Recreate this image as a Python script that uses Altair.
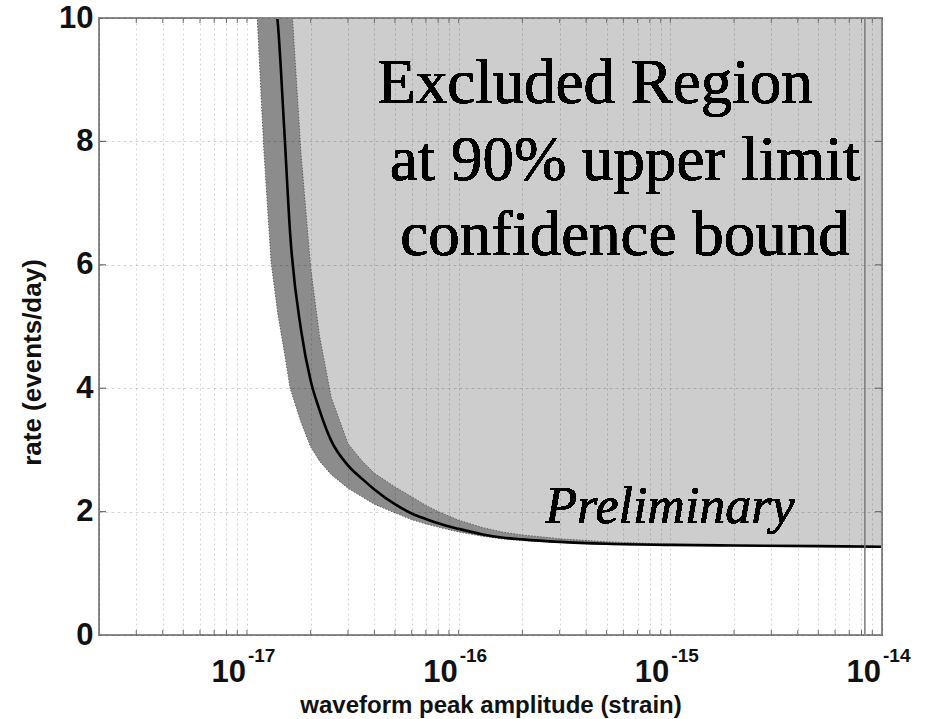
import altair as alt
import pandas as pd

# Upper-limit curve on event rate vs. waveform peak amplitude, with its uncertainty band
amplitude = [1.1e-17, 1.2e-17, 1.3e-17, 1.4e-17, 1.5e-17, 1.6e-17, 1.8e-17, 2.0e-17,
             2.2e-17, 2.5e-17, 3.0e-17, 3.5e-17, 4.0e-17, 5.0e-17, 6.0e-17, 7.0e-17,
             8.0e-17, 1.0e-16, 1.3e-16, 1.6e-16, 2.0e-16, 3.0e-16, 5.0e-16, 1.0e-15,
             2.0e-15, 5.0e-15, 1.0e-14]
rate_mid = [12.5, 11.3, 10.6, 9.9, 8.2, 6.5, 4.95, 4.12,
            3.65, 3.15, 2.75, 2.53, 2.36, 2.12, 1.97, 1.88,
            1.81, 1.72, 1.63, 1.58, 1.55, 1.51, 1.48, 1.46,
            1.45, 1.44, 1.43]
rate_low = [10.5, 7.9, 6.05, 5.2, 4.6, 4.0, 3.45, 3.05,
            2.82, 2.6, 2.38, 2.24, 2.12, 1.98, 1.87, 1.80,
            1.75, 1.67, 1.60, 1.56, 1.53, 1.50, 1.47, 1.455,
            1.445, 1.435, 1.425]
rate_high = [16.0, 14.5, 13.2, 12.2, 11.3, 10.6, 7.8, 5.95,
             4.85, 3.85, 3.1, 2.82, 2.62, 2.40, 2.24, 2.10,
             2.00, 1.86, 1.74, 1.67, 1.62, 1.56, 1.51, 1.47,
             1.455, 1.445, 1.435]

marker_amplitude = [8.3e-15]
major_exponents = [-17, -16, -15, -14]
y_values = [0, 2, 4, 6, 8, 10]
x_min, x_max = 2e-18, 1e-14
y_top = 10

W, H = 783, 617
SANS = "Liberation Sans"
SERIF = "Liberation Serif"

curve = pd.DataFrame({"amplitude": amplitude, "rate": rate_mid,
                      "low": rate_low, "high": rate_high})

# log-decade grid positions (1..9 x 10^e) inside the x range
log_ticks = []
for e in range(-18, -13):
    for m in range(1, 10):
        v = float(f"{m}e{e}")
        if x_min * 0.999 <= v <= x_max * 1.001:
            log_ticks.append(v)
ticks_df = pd.DataFrame({"amplitude": log_ticks})
major_df = pd.DataFrame({"amplitude": [10.0 ** e for e in major_exponents],
                         "exp": [str(e) for e in major_exponents]})
ytick_df = pd.DataFrame({"rate": [v for v in y_values if 0 < v < y_top]})
marker_df = pd.DataFrame({"amplitude": marker_amplitude})

x_scale = alt.Scale(type="log", domain=[x_min, x_max], nice=False)
y_scale = alt.Scale(domain=[0, y_top], nice=False)

x_axis = alt.Axis(values=log_ticks, grid=True, gridColor="black", gridOpacity=0.17,
                  gridDash=[2, 3], gridWidth=1, labels=False, ticks=False, domain=False,
                  title="waveform peak amplitude (strain)", titleFont=SANS,
                  titleFontSize=24, titleFontWeight="bold", titleColor="#111",
                  titleBaseline="alphabetic", titleY=77, zindex=1)
y_axis = alt.Axis(values=y_values, grid=True, gridColor="black", gridOpacity=0.17,
                  gridDash=[3, 3], gridWidth=1, ticks=False, domain=False,
                  labelFont=SANS, labelFontSize=31, labelFontWeight="bold",
                  labelColor="#111", labelPadding=6,
                  title="rate (events/day)", titleFont=SANS, titleFontSize=26,
                  titleFontWeight="bold", titleColor="#111", titleAngle=270,
                  titleAlign="center", titleBaseline="middle", titleX=-67, titleY=344,
                  zindex=1)


def X(field="amplitude"):
    return alt.X(f"{field}:Q", scale=x_scale, axis=x_axis)


def Y(field):
    return alt.Y(f"{field}:Q", scale=y_scale, axis=y_axis)


excluded = alt.Chart(curve).mark_area(color="#cdcdcd", clip=True, opacity=1).encode(
    x=X(), y=Y("rate"), y2=alt.datum(y_top)
)

band = alt.Chart(curve).mark_area(color="#8c8c8c", clip=True, opacity=1).encode(
    x=X(), y=Y("low"), y2="high:Q"
)
band_lo = alt.Chart(curve).mark_line(color="#5e5e5e", strokeWidth=1, clip=True,
                                     strokeDash=[1.5, 1.5]).encode(x=X(), y=Y("low"))
band_hi = alt.Chart(curve).mark_line(color="#5e5e5e", strokeWidth=1, clip=True,
                                     strokeDash=[1.5, 1.5]).encode(x=X(), y=Y("high"))

limit = alt.Chart(curve).mark_line(color="black", strokeWidth=2.6, clip=True,
                                   interpolate="monotone").encode(
    x=X(), y=Y("rate")
)

marker = alt.Chart(marker_df).mark_rule(color="#7a7a7a", strokeWidth=1.5).encode(
    x=X(), y=alt.value(0), y2=alt.value(H)
)

# inward tick marks on all four sides
tick_col = "#707070"
xt_bottom = alt.Chart(ticks_df).mark_rule(color=tick_col, strokeWidth=1).encode(
    x=X(), y=alt.value(H), y2=alt.value(H - 5))
xt_top = alt.Chart(ticks_df).mark_rule(color=tick_col, strokeWidth=1).encode(
    x=X(), y=alt.value(0), y2=alt.value(5))
yt_left = alt.Chart(ytick_df).mark_rule(color=tick_col, strokeWidth=1.2).encode(
    y=Y("rate"), x=alt.value(0), x2=alt.value(7))
yt_right = alt.Chart(ytick_df).mark_rule(color=tick_col, strokeWidth=1.2).encode(
    y=Y("rate"), x=alt.value(W - 7), x2=alt.value(W))

# decade labels: base "10" with a raised exponent
base_lbl = alt.Chart(major_df).mark_text(
    text="10", font=SANS, fontSize=31, fontWeight="bold", color="#111",
    align="right", baseline="alphabetic", dx=-1).encode(x=X(), y=alt.value(664))
exp_lbl = alt.Chart(major_df).mark_text(
    font=SANS, fontSize=19, fontWeight="bold", color="#111",
    align="left", baseline="alphabetic", dx=1).encode(
    x=X(), y=alt.value(644), text="exp:N")


def note(txt, x, y, size=63, style="normal", align="center"):
    return alt.Chart(curve).mark_text(
        text=txt, font=SERIF, fontSize=size, fontStyle=style, color="black",
        align=align, baseline="alphabetic").encode(x=alt.value(x), y=alt.value(y))


notes = [
    note("Excluded Region", 496, 85),
    note("at 90% upper limit", 526, 162),
    note("confidence bound", 526, 237),
    note("Preliminary", 571, 505, size=52, style="italic"),
]

frame = alt.Chart(curve).mark_rect(filled=False, stroke="#8a8a8a", strokeWidth=1.5).encode(
    x=alt.value(0), x2=alt.value(W), y=alt.value(0), y2=alt.value(H))

chart = alt.layer(
    excluded, band, band_lo, band_hi, limit, marker,
    xt_bottom, xt_top, yt_left, yt_right, base_lbl, exp_lbl, *notes, frame
).properties(
    width=W, height=H,
    autosize=alt.AutoSizeParams(type="none"),
    padding={"left": 99, "top": 18, "right": 50, "bottom": 84},
    background="white",
).configure_view(stroke=None)

chart.save("out.html", embed_options={"renderer": "svg", "actions": False})
